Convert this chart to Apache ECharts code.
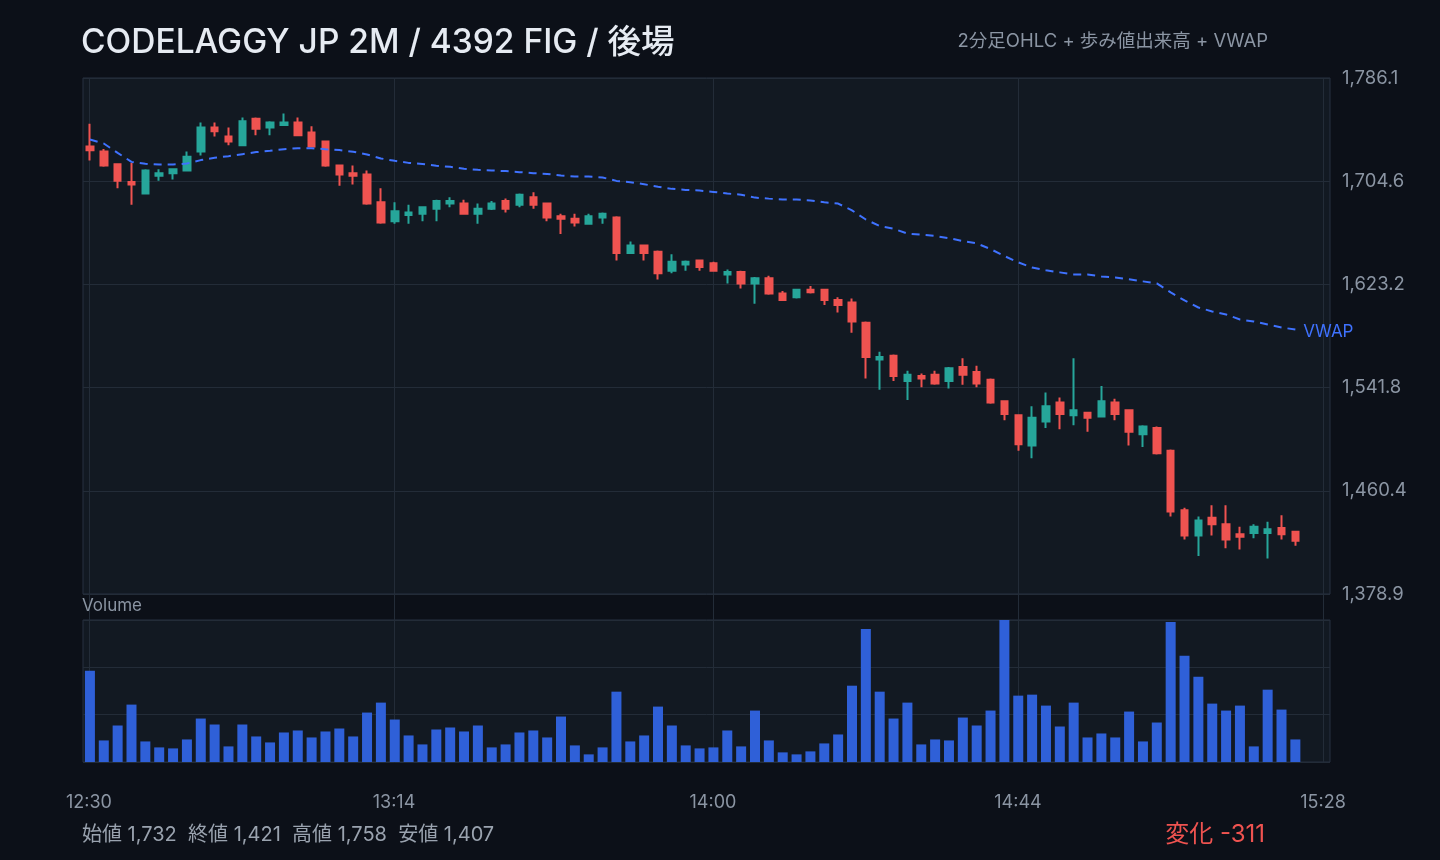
<!DOCTYPE html>
<html>
<head>
<meta charset="utf-8">
<title>CODELAGGY JP 2M</title>
<script src="https://cdn.jsdelivr.net/npm/echarts@6.0.0/dist/echarts.min.js"></script>
<style>
  html, body { margin: 0; padding: 0; background: #0c1018; }
  #main { width: 1440px; height: 860px; }
</style>
</head>
<body>
<div id="main"></div>
<script>
// 2-minute bars, 12:30 - 15:28
const categories = [];
for (let i = 0; i < 90; i++) {
  const m = 12 * 60 + 30 + i * 2;
  categories.push(Math.floor(m / 60) + ':' + String(m % 60).padStart(2, '0'));
}
const tickLabels = ['12:30', '13:14', '14:00', '14:44', '15:28'];

const opens = [1732, 1728, 1718, 1704, 1695, 1709, 1711, 1713, 1728, 1747, 1740, 1733, 1754, 1747, 1749, 1751, 1743, 1736, 1717, 1711,
  1710, 1688, 1673, 1678, 1679, 1683, 1687, 1687, 1679, 1683, 1689, 1686, 1692, 1687, 1677, 1675, 1671, 1676, 1676, 1648,
  1654, 1649, 1634, 1639, 1642, 1640, 1631, 1633, 1624, 1628, 1616, 1613, 1619, 1619, 1611, 1609, 1593, 1564, 1567, 1547,
  1551, 1552, 1547, 1558, 1554, 1548, 1531, 1520, 1496, 1515, 1530, 1520, 1522, 1519, 1530, 1524, 1505, 1510, 1492, 1445,
  1425, 1439, 1434, 1426, 1427, 1427, 1431, 1428];
const closes = [1729, 1717, 1705, 1702, 1713, 1711, 1714, 1724, 1747, 1744, 1736, 1752, 1746, 1751, 1751, 1741, 1732, 1717, 1710, 1709,
  1687, 1672, 1681, 1680, 1684, 1689, 1689, 1679, 1683, 1687, 1683, 1694, 1686, 1676, 1675, 1672, 1677, 1679, 1648, 1654,
  1648, 1632, 1641, 1641, 1637, 1634, 1633, 1624, 1628, 1616, 1611, 1619, 1617, 1611, 1607, 1594, 1566, 1566, 1551, 1552,
  1549, 1545, 1557, 1552, 1545, 1530, 1521, 1497, 1518, 1527, 1521, 1524, 1518, 1531, 1521, 1507, 1511, 1490, 1444, 1425,
  1437, 1434, 1422, 1424, 1432, 1430, 1426, 1421];
const lows = [1721, 1716, 1699, 1686, 1695, 1705, 1706, 1713, 1725, 1740, 1733, 1733, 1741, 1741, 1749, 1741, 1732, 1716, 1701, 1702,
  1686, 1671, 1671, 1671, 1673, 1673, 1684, 1679, 1671, 1682, 1680, 1684, 1683, 1673, 1663, 1669, 1671, 1671, 1642, 1648,
  1642, 1627, 1632, 1634, 1634, 1634, 1624, 1620, 1608, 1615, 1611, 1612, 1616, 1607, 1601, 1585, 1549, 1540, 1547, 1532,
  1542, 1544, 1541, 1544, 1542, 1529, 1516, 1492, 1486, 1510, 1509, 1512, 1507, 1519, 1516, 1496, 1495, 1489, 1440, 1422,
  1409, 1425, 1415, 1414, 1423, 1407, 1422, 1417];
const highs = [1750, 1730, 1718, 1719, 1714, 1714, 1714, 1728, 1751, 1751, 1747, 1755, 1755, 1752, 1758, 1755, 1748, 1736, 1717, 1717,
  1713, 1699, 1688, 1686, 1684, 1690, 1692, 1690, 1687, 1689, 1691, 1695, 1696, 1687, 1679, 1679, 1679, 1680, 1677, 1657,
  1654, 1650, 1647, 1642, 1642, 1641, 1635, 1634, 1629, 1630, 1618, 1619, 1622, 1619, 1613, 1612, 1594, 1570, 1568, 1555,
  1553, 1555, 1558, 1565, 1559, 1549, 1531, 1520, 1527, 1538, 1534, 1565, 1522, 1543, 1533, 1524, 1512, 1511, 1493, 1447,
  1440, 1449, 1449, 1432, 1434, 1436, 1441, 1428];
const vwap = [1737.6, 1734.4, 1727.0, 1719.9, 1718.4, 1717.8, 1717.8, 1718.6, 1721.3, 1723.1, 1724.4, 1726.0, 1727.6, 1728.6, 1729.9,
  1730.7, 1730.7, 1729.9, 1729.2, 1727.9, 1725.7, 1722.6, 1720.7, 1719.1, 1718.3, 1716.8, 1716.0, 1714.4, 1713.6, 1713.1,
  1712.6, 1711.8, 1711.0, 1710.4, 1709.1, 1708.3, 1708.3, 1707.6, 1704.9, 1703.9, 1702.3, 1700.2, 1698.6, 1697.8, 1697.3,
  1696.2, 1694.9, 1694.0, 1691.7, 1690.9, 1690.2, 1690.2, 1689.5, 1688.0, 1687.0, 1681.6, 1674.4, 1669.3, 1667.2, 1663.3,
  1662.5, 1661.4, 1659.7, 1657.4, 1655.6, 1651.1, 1645.6, 1640.6, 1636.5, 1634.3, 1632.7, 1631.1, 1631.1, 1629.5, 1628.7,
  1627.2, 1625.6, 1624.0, 1616.9, 1610.6, 1605.0, 1601.9, 1599.5, 1595.5, 1594.0, 1591.6, 1589.2, 1587.6];
const volumes = [27500, 6500, 11000, 17300, 6200, 4400, 4100, 6800, 13100, 11300, 4700, 11300, 7700, 5900, 8900, 9500, 7400, 9200, 10100, 7700,
  14900, 17900, 12800, 8000, 5300, 9800, 10400, 9200, 11000, 4400, 5300, 8900, 9500, 7400, 13700, 5000, 2300, 4400, 21200, 6200,
  8000, 16700, 11000, 5000, 4100, 4400, 9500, 4700, 15500, 6500, 2900, 2300, 3200, 5600, 8300, 23000, 40100, 21200, 13100, 17900,
  5300, 6800, 6500, 13400, 11000, 15500, 42800, 20000, 20300, 17000, 10700, 17900, 7400, 8600, 7400, 15200, 6200, 11900, 42200, 32000,
  25700, 17600, 15500, 17000, 4700, 21800, 15800, 6800];

const UP = '#26a69a';
const DOWN = '#ef5350';
const FONT = 'Inter, "Noto Sans CJK JP", sans-serif';

function fmt(v, d) {
  return v.toLocaleString('en-US', { minimumFractionDigits: d, maximumFractionDigits: d });
}

function getOption() {
  let ohlc = [];
  for (let i = 0; i < opens.length; i++) {
    ohlc.push([opens[i], closes[i], lows[i], highs[i]]);
  }
  const lo = Math.min(...lows);
  const hi = Math.max(...highs);
  const pad = (hi - lo) * 0.08;
  const yMin = lo - pad;
  const yMax = hi + pad;
  const volMax = Math.max(...volumes);
  const first = opens[0];
  const last = closes[closes.length - 1];
  const chg = last - first;
  const stats = '始値 ' + fmt(first, 0) + '  終値 ' + fmt(last, 0) + '  高値 ' + fmt(hi, 0) + '  安値 ' + fmt(lo, 0);

  return {
    backgroundColor: '#0c1018',
    animation: false,
    textStyle: { fontFamily: FONT },
    title: [{
      text: 'CODELAGGY JP 2M / 4392 FIG / 後場',
      left: 81, top: 26, padding: 0,
      textStyle: { color: '#e6ebf2', fontSize: 33.5, fontWeight: 500, fontFamily: FONT }
    }, {
      text: '2分足OHLC + 歩み値出来高 + VWAP',
      right: 172, top: 32, padding: 0,
      textStyle: { color: '#8b95a3', fontSize: 18.5, fontWeight: 'normal', fontFamily: FONT }
    }, {
      text: 'Volume',
      left: 82, top: 597, padding: 0,
      textStyle: { color: '#8b95a3', fontSize: 17, fontWeight: 'normal', fontFamily: FONT }
    }, {
      text: stats,
      left: 82, top: 825, padding: 0,
      textStyle: { color: '#9aa3af', fontSize: 20, fontWeight: 'normal', fontFamily: FONT }
    }, {
      text: '変化 ' + (chg > 0 ? '+' : '') + fmt(chg, 0),
      right: 175, top: 823, padding: 0,
      textStyle: { color: chg < 0 ? DOWN : UP, fontSize: 24, fontWeight: 'normal', fontFamily: FONT }
    }],
    grid: [
      { left: 83, right: 110, top: 78, height: 516, show: true, backgroundColor: '#121922', borderColor: '#263040', borderWidth: 1 },
      { left: 83, right: 110, top: 620, height: 142, show: true, backgroundColor: '#121922', borderColor: '#263040', borderWidth: 1 },
      { left: 89, right: 117, top: 78, height: 684, show: false }
    ],
    xAxis: [{
      type: 'category', gridIndex: 0, data: categories, boundaryGap: true,
      axisLine: { show: false }, axisTick: { show: false }, axisLabel: { show: false }, splitLine: { show: false }
    }, {
      type: 'category', gridIndex: 1, data: categories, boundaryGap: true,
      axisLine: { show: false }, axisTick: { show: false }, axisLabel: { show: false }, splitLine: { show: false }
    }, {
      type: 'category', gridIndex: 2, data: categories, boundaryGap: false,
      axisLine: { show: false }, axisTick: { show: false },
      axisLabel: {
        color: '#8b95a3', fontSize: 18, margin: 32, fontFamily: FONT,
        interval: (idx, val) => tickLabels.includes(val)
      },
      splitLine: {
        show: true,
        interval: (idx, val) => tickLabels.includes(val),
        lineStyle: { color: '#232c38', width: 1 }
      }
    }],
    yAxis: [{
      type: 'value', gridIndex: 0, position: 'right', scale: true,
      min: yMin, max: yMax, interval: (yMax - yMin) / 5,
      axisLine: { show: false }, axisTick: { show: false },
      axisLabel: { color: '#8b95a3', fontSize: 18.5, margin: 12, fontFamily: FONT, formatter: v => fmt(v, 1) },
      splitLine: { lineStyle: { color: '#232c38' } }
    }, {
      type: 'value', gridIndex: 1, min: 0, max: volMax, interval: volMax / 3,
      axisLine: { show: false }, axisTick: { show: false }, axisLabel: { show: false },
      splitLine: { lineStyle: { color: '#232c38' } }
    }, {
      type: 'value', gridIndex: 2, min: 0, max: 1, show: false
    }],
    series: [{
      name: 'OHLC',
      type: 'candlestick',
      xAxisIndex: 0, yAxisIndex: 0,
      barWidth: 7,
      itemStyle: {
        color: UP, color0: DOWN,
        borderColor: UP, borderColor0: DOWN,
        borderWidth: 2
      },
      data: ohlc
    }, {
      name: 'VWAP',
      type: 'line',
      xAxisIndex: 0, yAxisIndex: 0,
      symbol: 'none',
      lineStyle: { color: '#3f72ff', width: 2, type: [8, 6] },
      endLabel: { show: true, formatter: 'VWAP', color: '#3f72ff', fontSize: 17, distance: 8, offset: [0, 2], fontFamily: FONT },
      data: vwap
    }, {
      name: 'Volume',
      type: 'bar',
      xAxisIndex: 1, yAxisIndex: 1,
      barWidth: 10,
      itemStyle: { color: '#2f60d8' },
      data: volumes
    }]
  };
}

const chart = echarts.init(document.getElementById('main'));
chart.setOption(getOption());
</script>
</body>
</html>
